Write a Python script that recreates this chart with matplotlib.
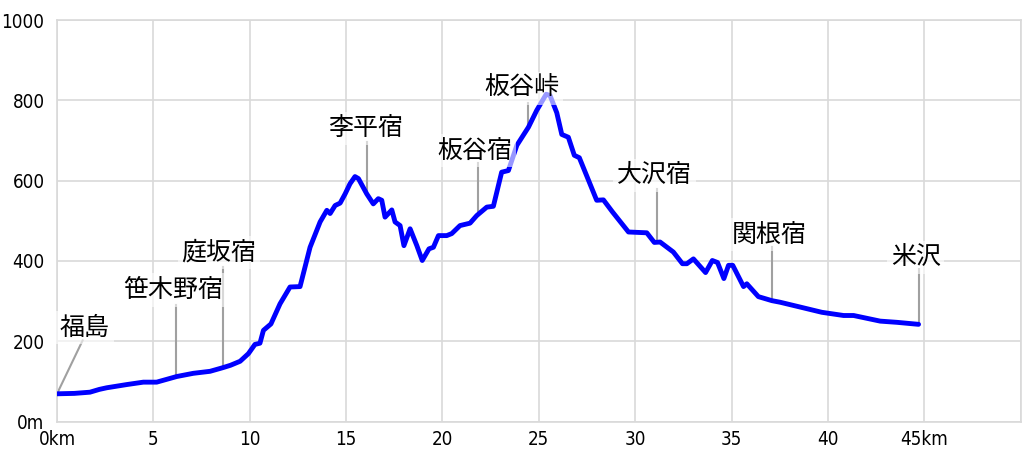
import matplotlib
matplotlib.use("Agg")
import matplotlib.pyplot as plt
from matplotlib import font_manager

# elevation profile, 福島 -> 米沢
dist_km = [0, 0.9, 1.71, 2.2, 2.58, 3.62, 4.48, 5.17, 6.21, 7.07, 7.94, 8.6, 9.0, 9.5,
           9.93, 10.27, 10.53, 10.71, 11.1, 11.57, 12.09, 12.61, 13.13, 13.65, 14.0,
           14.17, 14.43, 14.69, 14.95, 15.2, 15.46, 15.64, 16.07, 16.41, 16.67, 16.85,
           17.02, 17.37, 17.54, 17.8, 18.0, 18.32, 18.67, 18.95, 19.3, 19.53, 19.79,
           20.22, 20.48, 20.91, 21.43, 21.78, 22.3, 22.64, 23.07, 23.42, 23.86, 24.46,
           24.89, 25.38, 25.58, 25.93, 26.19, 26.53, 26.84, 27.1, 28.0, 28.35, 28.82,
           29.65, 30.6, 30.99, 31.29, 31.98, 32.45, 32.68, 33.02, 33.65, 34.0, 34.27,
           34.6, 34.84, 35.06, 35.62, 35.79, 36.39, 37.09, 37.52, 38.56, 39.68, 40.81,
           41.33, 42.71, 43.58, 44.7]
elev_m = [69, 70, 73, 80, 84, 92, 98, 98, 112, 120, 125, 134, 140, 150,
          169, 192, 195, 227, 243, 293, 335, 336, 434, 497, 526,
          518, 538, 544, 567, 592, 610, 605, 567, 542, 555, 551,
          509, 527, 497, 488, 438, 480, 438, 401, 430, 434, 463,
          463, 468, 488, 494, 513, 534, 536, 621, 625, 688, 733,
          775, 815, 812, 769, 715, 708, 663, 657, 551, 552, 522,
          472, 470, 446, 447, 422, 393, 393, 405, 371, 401, 396,
          356, 389, 389, 336, 343, 311, 301, 297, 285, 272, 264,
          264, 250, 247, 242]

stations = ["福島", "笹木野宿", "庭坂宿", "李平宿", "板谷宿", "板谷峠", "大沢宿", "関根宿", "米沢"]
station_km = [0, 6.17, 8.6, 16.07, 21.86, 24.46, 31.15, 37.12, 44.7]
station_elev = [69, 112, 134, 567, 513, 733, 446, 299, 242]

# where the labels sit (km, m) and where the leader line ends
label_xy = [(1.45, 234), (6.05, 327), (8.4, 421), (16.0, 730), (21.7, 675),
            (24.1, 830), (31.0, 613), (36.95, 466), (44.55, 409)]
leader_top = [(1.33, 202), (6.17, 289), (8.6, 384), (16.07, 696), (21.86, 645),
              (24.46, 794), (31.15, 580), (37.12, 434), (44.7, 381)]

x_ticks = [0, 5, 10, 15, 20, 25, 30, 35, 40, 45]
x_labels = ["0km", "5", "10", "15", "20", "25", "30", "35", "40", "45km"]
y_ticks = [0, 200, 400, 600, 800, 1000]
y_labels = ["0m", "200", "400", "600", "800", "1000"]

# narrow (regular weight) font for the numbers if there is one
tick_font = None
for f in font_manager.fontManager.ttflist:
    narrow = "Narrow" in f.name or f.stretch in ("condensed", "semi-condensed") \
        or "Condensed" in f.fname
    if narrow and f.weight in (400, "normal", "regular") and f.style == "normal" \
            and "Bold" not in f.fname and "Oblique" not in f.fname:
        tick_font = font_manager.FontProperties(fname=f.fname, size=13.5)
        break
if tick_font is None:
    tick_font = font_manager.FontProperties(family="DejaVu Sans", size=12)
jp_font = ["Noto Sans CJK JP", "DejaVu Sans"]

fig = plt.figure(figsize=(10.24, 4.55), dpi=100)
ax = fig.add_axes([57 / 1024, 33.5 / 455, 963.7 / 1024, 401.5 / 455])

ax.plot(dist_km, elev_m, color="#0000ff", linewidth=3.5, solid_joinstyle="round",
        solid_capstyle="round", zorder=3)

for i, name in enumerate(stations):
    ax.plot([station_km[i], leader_top[i][0]], [station_elev[i], leader_top[i][1]],
            color="#a0a0a0", linewidth=1.5, zorder=2)
    ax.text(label_xy[i][0], label_xy[i][1], name, family=jp_font, fontsize=18,
            ha="center", va="center", zorder=4,
            bbox=dict(boxstyle="square,pad=0.15", facecolor="white", edgecolor="none", alpha=0.6))

ax.set_xlim(0, 50)
ax.set_ylim(0, 1000)
ax.set_xticks(x_ticks)
ax.set_xticklabels(x_labels, fontproperties=tick_font)
ax.set_yticks(y_ticks)
ax.set_yticklabels(y_labels, fontproperties=tick_font)
ax.tick_params(axis="x", which="both", length=0, pad=6)
ax.tick_params(axis="y", which="both", length=0, pad=9)
ax.set_xticks([50], minor=True)
ax.grid(True, which="both", color="#d9d9d9", linewidth=1.2, zorder=0)
for s in ax.spines.values():
    s.set_color("#d9d9d9")
    s.set_linewidth(1.2)

fig.savefig("out.png", dpi=100)
